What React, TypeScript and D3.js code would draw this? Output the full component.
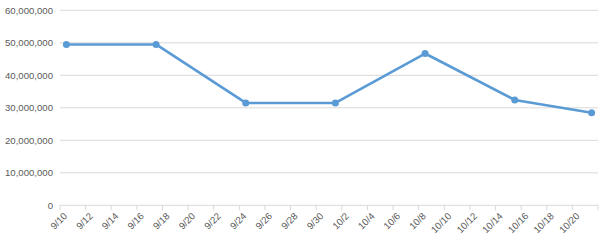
import React from "react";
import * as d3 from "d3";

const startDate = new Date(2015, 8, 10);
const dayCount = 42;
const pointDates = ["9/10", "9/17", "9/24", "10/1", "10/8", "10/15", "10/21"];
const pointValues = [49500000, 49500000, 31500000, 31500000, 46700000, 32400000, 28500000];
const yTicks = [0, 10000000, 20000000, 30000000, 40000000, 50000000, 60000000];

const W = 610, H = 246;
const left = 60, right = 598, top = 10.3, bottom = 205.3;

export default function App() {
  const days: string[] = [];
  for (let i = 0; i < dayCount; i++) {
    const d = d3.timeDay.offset(startDate, i);
    days.push(`${d.getMonth() + 1}/${d.getDate()}`);
  }
  const x = d3.scaleBand<string>().domain(days).range([left, right]).paddingInner(0).paddingOuter(0);
  const y = d3.scaleLinear().domain([0, 60000000]).range([bottom, top]);
  const fmt = d3.format(",");
  const cx = (d: string) => (x(d) as number) + x.bandwidth() / 2;
  const line = d3.line<number>().x((_, i) => cx(pointDates[i])).y((v) => y(v));
  const tickDays = days.filter((_, i) => i % 2 === 0);

  return (
    <svg width={W} height={H} style={{ position: "absolute", left: 0, top: 0, background: "#fff" }}
      fontFamily="'Liberation Sans', Arial, sans-serif">
      {yTicks.map((t) => (
        <g key={t}>
          {t > 0 && <line x1={left} x2={right} y1={y(t)} y2={y(t)} stroke="#d9d9d9" strokeWidth={1} />}
          <text x={53} y={y(t)} dy="0.35em" textAnchor="end" fontSize={9.6} fill="#595959">{fmt(t)}</text>
        </g>
      ))}
      <line x1={left} x2={right} y1={bottom} y2={bottom} stroke="#d9d9d9" strokeWidth={1} />
      {tickDays.map((d) => (
        <line key={"t" + d} x1={x(d)} x2={x(d)} y1={bottom} y2={bottom + 5} stroke="#d9d9d9" />
      ))}
      <line x1={right} x2={right} y1={bottom} y2={bottom + 5} stroke="#d9d9d9" />
      {tickDays.map((d) => (
        <text key={"l" + d} transform={`translate(${cx(d) - 1},${bottom + 9}) rotate(-45)`}
          textAnchor="end" dy="0.35em" fontSize={9.6} fill="#595959">{d}</text>
      ))}
      <path d={line(pointValues) || ""} fill="none" stroke="#5b9bd5" strokeWidth={2.6} strokeLinejoin="round" />
      {pointValues.map((v, i) => (
        <circle key={i} cx={cx(pointDates[i])} cy={y(v)} r={3.5} fill="#5b9bd5" />
      ))}
    </svg>
  );
}
